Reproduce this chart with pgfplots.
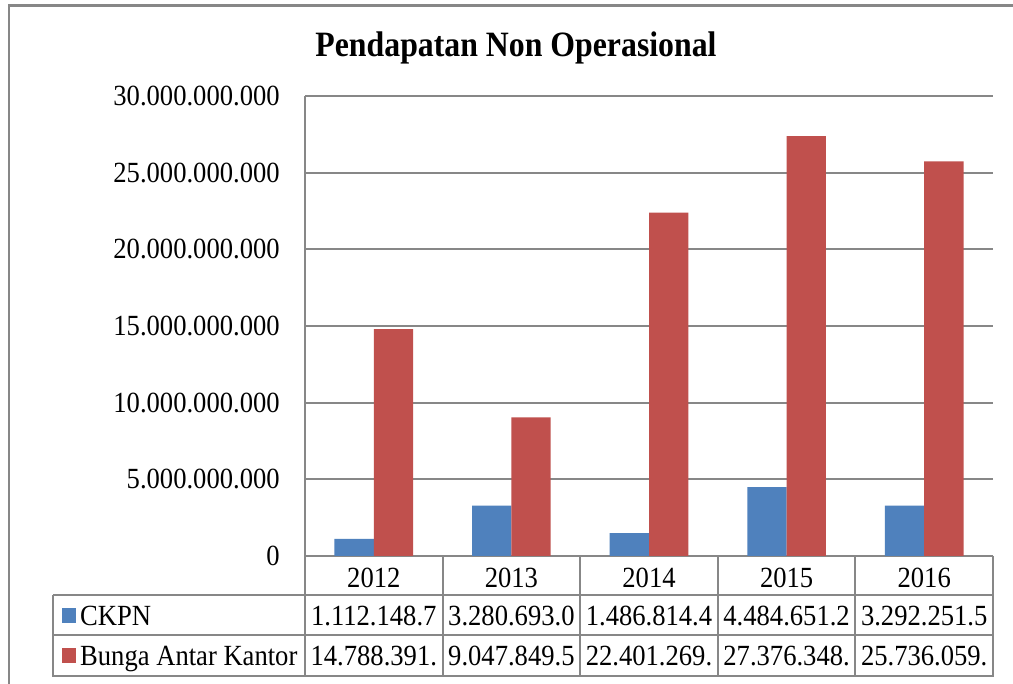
\documentclass[border=0pt]{standalone}
\usepackage{fontspec}
\setmainfont{Liberation Serif}
\usepackage{graphicx}
\usepackage{pgfplots}
\pgfplotsset{compat=1.18}
\definecolor{cblue}{HTML}{4F81BD}
\definecolor{cred}{HTML}{C0504D}
\definecolor{gridc}{HTML}{878787}
\newcommand{\lbl}{\fontsize{26.6}{30}\selectfont}
\newcommand{\st}[1]{\scalebox{1}[1.1]{#1}}
\begin{document}
\begin{tikzpicture}[x=1pt,y=1pt]
\useasboundingbox (0,0) rectangle (1013,-684);
\fill[white] (0,0) rectangle (1013,-684);
\draw[gridc, line width=2.5] (9,-684) -- (9,-5.5) -- (1013,-5.5);
\node[font=\fontsize{31.8}{36}\selectfont\bfseries, anchor=base, inner sep=0] at (516,-57) {\scalebox{1}[1.12]{Pendapatan Non Operasional}};
\begin{axis}[
  at={(305pt,-556pt)}, anchor=south west,
  scale only axis, width=688pt, height=460pt,
  ybar=0pt, bar width=39.3pt,
  xmin=-0.5, xmax=4.5, ymin=0, ymax=3e10,
  xtick=\empty,
  ytick={0,5e9,1e10,1.5e10,2e10,2.5e10,3e10},
  yticklabels={\st{0},\st{5.000.000.000},\st{10.000.000.000},\st{15.000.000.000},\st{20.000.000.000},\st{25.000.000.000},\st{30.000.000.000}},
  yticklabel style={font=\lbl, inner sep=0pt, anchor=east, xshift=-23pt},
  ytick style={draw=none},
  ymajorgrids, grid style={gridc, line width=2pt},
  axis x line=bottom, axis y line=left,
  axis line style={-, gridc, line width=2pt},
  scaled y ticks=false,
]
\addplot[fill=cblue, draw=none] coordinates {(0,1112148700) (1,3280693000) (2,1486814400) (3,4484651200) (4,3292251500)};
\addplot[fill=cred, draw=none] coordinates {(0,14788391000) (1,9047849500) (2,22401269000) (3,27376348000) (4,25736059000)};
\end{axis}
% data table
\foreach \k in {0,...,5} {\draw[gridc, line width=2] (305+137.6*\k,-556) -- (305+137.6*\k,-676);}
\draw[gridc, line width=2] (53,-595) -- (993,-595);
\draw[gridc, line width=2] (53,-635) -- (993,-635);
\draw[gridc, line width=2] (52,-676) -- (994,-676);
\draw[gridc, line width=2] (53,-595) -- (53,-676);
\foreach \y [count=\i from 0] in {2012,2013,2014,2015,2016} {
  \node[font=\lbl, anchor=base, inner sep=0] at (305+137.6*\i+68.8,-587) {\st{\y}};
}
\foreach \v [count=\i from 0] in {1.112.148.7,3.280.693.0,1.486.814.4,4.484.651.2,3.292.251.5} {
  \node[font=\lbl, anchor=base, inner sep=0] at (305+137.6*\i+68.8,-625) {\st{\v}};
}
\foreach \v [count=\i from 0] in {14.788.391.,9.047.849.5,22.401.269.,27.376.348.,25.736.059.} {
  \node[font=\lbl, anchor=base, inner sep=0] at (305+137.6*\i+68.8,-665) {\st{\v}};
}
\fill[cblue] (62,-608) rectangle (76,-623);
\fill[cred] (62,-648) rectangle (76,-663);
\node[font=\lbl, anchor=base west, inner sep=0] at (80,-625) {\st{CKPN}};
\node[font=\lbl, anchor=base west, inner sep=0] at (80,-665) {\st{Bunga Antar Kantor}};
\end{tikzpicture}
\end{document}
